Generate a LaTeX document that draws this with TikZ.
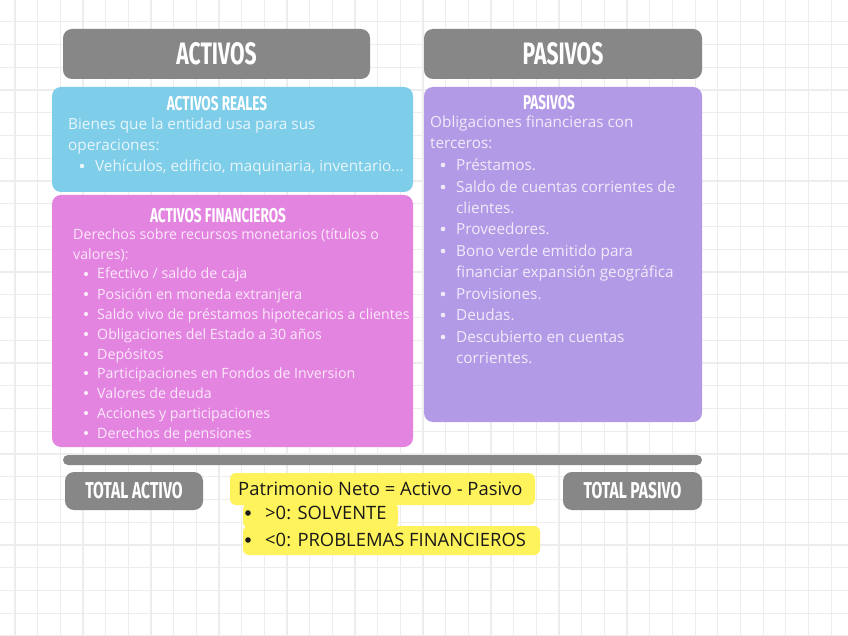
\documentclass[tikz,border=0pt]{standalone}
\usepackage{fontspec}
\setmainfont{Open Sans}
\newfontfamily\ttlfont[FakeStretch=0.68]{Fira Sans}
\definecolor{gridc}{HTML}{EDEDED}
\definecolor{grayc}{HTML}{878787}
\definecolor{bluec}{HTML}{7ECDE9}
\definecolor{pinkc}{HTML}{E384E0}
\definecolor{purpc}{HTML}{B39AE6}
\definecolor{yellc}{HTML}{FFF35C}
\begin{document}
\begin{tikzpicture}[x=1pt,y=-1pt,
  box/.style={rounded corners=9pt, inner sep=0pt, outer sep=0pt},
  hdr/.style={box, fill=grayc, text=white, font=\ttlfont\bfseries\fontsize{31}{31}\selectfont},
  tot/.style={box, fill=grayc, text=white, font=\ttlfont\bfseries\fontsize{23}{23}\selectfont},
  sub/.style={inner sep=0pt, text=white, font=\ttlfont\bfseries\fontsize{20}{20}\selectfont},
  bt/.style={anchor=base west, inner sep=0pt, text=white!82!bluec, font=\fontsize{15.3}{18}\selectfont},
  pt/.style={anchor=base west, inner sep=0pt, text=white!82!pinkc, font=\fontsize{14.2}{17}\selectfont},
  ut/.style={anchor=base west, inner sep=0pt, text=white!80!purpc, font=\fontsize{15.3}{18}\selectfont},
  yt/.style={anchor=base west, inner sep=0pt, text=black!90, font=\fontsize{18.4}{21}\selectfont},
  ybox/.style={fill=yellc, rounded corners=6pt, inner sep=0pt, outer sep=0pt}
]
\useasboundingbox (0,0) rectangle (848,636);
\fill[white] (0,0) rectangle (848,636);
\foreach \i in {-1,...,37} \draw[gridc, line width=1.2] ({15+22.67*\i},0) -- ({15+22.67*\i},636);
\foreach \j in {0,...,28} \draw[gridc, line width=1.2] (0,{-1+22.75*\j}) -- (848,{-1+22.75*\j});

% headers
\node[hdr, minimum width=307, minimum height=50] (hA) at (216.5,54) {ACTIVOS};
\node[hdr, minimum width=278, minimum height=50] (hP) at (563,54) {PASIVOS};

% coloured boxes
\node[box, fill=bluec, minimum width=361, minimum height=105] (bR) at (232.5,139.5) {};
\node[box, fill=pinkc, minimum width=361, minimum height=252] (bF) at (232.5,321) {};
\node[box, fill=purpc, minimum width=278, minimum height=335] (bP) at (563,254.5) {};

% activos reales
\node[sub] (tR) at (217,104) {ACTIVOS REALES};
\node[bt] (r1) at (68,129.5) {Bienes que la entidad usa para sus};
\node[bt] (r2) at (68,150.5) {operaciones:};
\fill[white!82!bluec] (82,166) circle (2.3);
\node[bt] (r3) at (95,171.5) {Vehículos, edificio, maquinaria, inventario...};

% activos financieros
\node[sub] (tF) at (218,216) {ACTIVOS FINANCIEROS};
\node[pt] (f1) at (73,240) {Derechos sobre recursos monetarios (títulos o};
\node[pt] (f2) at (73,260) {valores):};
\foreach \y/\t [count=\k] in {274/{Efectivo / saldo de caja},
  294/{Posición en moneda extranjera},
  314/{Saldo vivo de préstamos hipotecarios a clientes},
  334/{Obligaciones del Estado a 30 años},
  354/{Depósitos},
  373/{Participaciones en Fondos de Inversion},
  393/{Valores de deuda},
  413/{Acciones y participaciones},
  433/{Derechos de pensiones}}{
  \fill[white!82!pinkc] (86,\y) circle (2.1);
  \node[pt] (fi\k) at (97,{\y+5}) {\t};
}

% pasivos
\node[sub] (tP) at (549,103) {PASIVOS};
\node[ut] (p1) at (430,127.5) {Obligaciones financieras con};
\node[ut] (p2) at (430,148.5) {terceros:};
\foreach \y in {165,187,229,251,294,315,337} \fill[white!80!purpc] (443,\y) circle (2.3);
\foreach \y/\t [count=\k] in {165/{Préstamos.},
  187/{Saldo de cuentas corrientes de},
  208/{clientes.},
  229/{Proveedores.},
  251/{Bono verde emitido para},
  272/{financiar expansión geográfica},
  294/{Provisiones.},
  315/{Deudas.},
  337/{Descubierto en cuentas},
  358/{corrientes.}}{
  \node[ut] (pi\k) at (456,{\y+5.5}) {\t};
}

% bar
\node[fill=grayc, rounded corners=5pt, minimum width=639, minimum height=10, inner sep=0pt] (bar) at (382.5,460) {};

% totals
\node[tot, minimum width=138, minimum height=38] (tA) at (134,491) {TOTAL ACTIVO};
\node[tot, minimum width=139, minimum height=38] (tPs) at (632.5,491) {TOTAL PASIVO};

% patrimonio
\node[ybox, minimum width=297, minimum height=29] (y3) at (391.5,540.5) {};
\node[ybox, minimum width=155, minimum height=25] (y2) at (320.5,515.5) {};
\node[ybox, minimum width=305, minimum height=32] (y1) at (382.5,489) {};
\node[yt] (pn) at (238,495.5) {Patrimonio Neto = Activo - Pasivo};
\fill[black!90] (248,513) circle (2.8);
\fill[black!90] (248,540) circle (2.8);
\node[yt] (s1) at (265,519.5) {>0: SOLVENTE};
\node[yt] (s2) at (265,546.5) {<0: PROBLEMAS FINANCIEROS};
\end{tikzpicture}
\end{document}
